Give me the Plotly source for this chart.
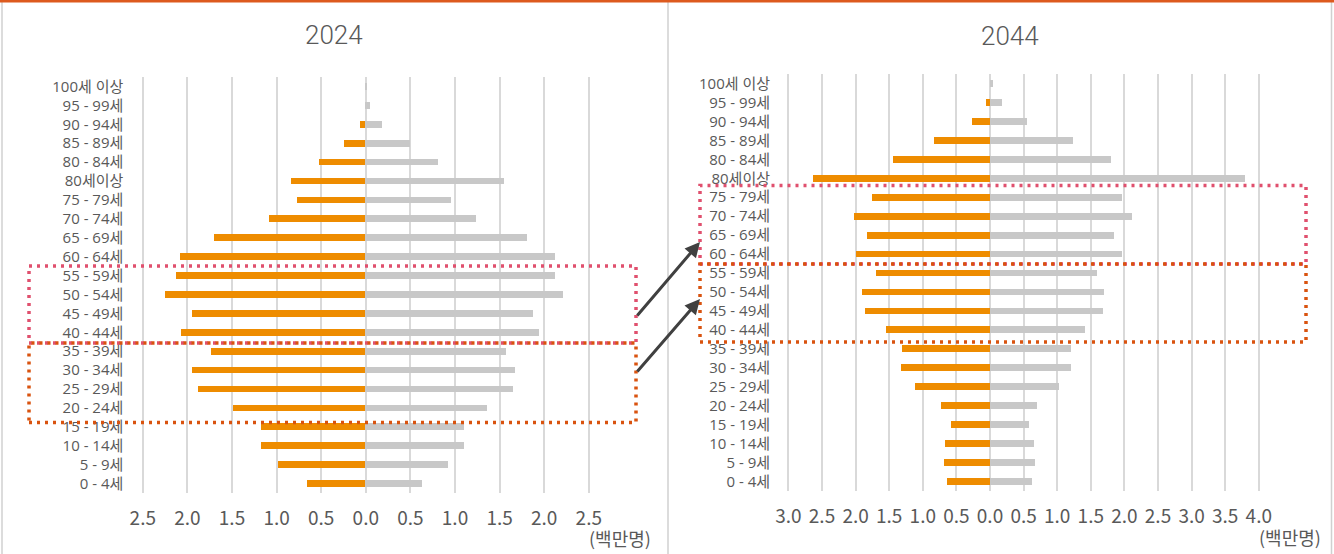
import plotly.graph_objects as go

W, H = 1334, 554

# Age groups, listed from top row to bottom row
age_groups = [
    "100세 이상", "95 - 99세", "90 - 94세", "85 - 89세", "80 - 84세", "80세이상",
    "75 - 79세", "70 - 74세", "65 - 69세", "60 - 64세", "55 - 59세", "50 - 54세",
    "45 - 49세", "40 - 44세", "35 - 39세", "30 - 34세", "25 - 29세", "20 - 24세",
    "15 - 19세", "10 - 14세", "5 - 9세", "0 - 4세",
]

# Population in millions (남 = left side, 여 = right side)
male_2024 = [0.00, 0.00, 0.06, 0.24, 0.52, 0.83, 0.77, 1.08, 1.70, 2.08, 2.12, 2.25,
             1.95, 2.07, 1.73, 1.94, 1.88, 1.49, 1.17, 1.17, 0.98, 0.66]
female_2024 = [0.01, 0.05, 0.19, 0.50, 0.81, 1.55, 0.96, 1.24, 1.81, 2.13, 2.13, 2.21,
               1.88, 1.95, 1.57, 1.68, 1.65, 1.36, 1.10, 1.11, 0.93, 0.63]
male_2044 = [0.00, 0.06, 0.27, 0.83, 1.44, 2.64, 1.75, 2.02, 1.83, 2.00, 1.69, 1.90,
             1.86, 1.55, 1.31, 1.33, 1.12, 0.73, 0.58, 0.67, 0.69, 0.64]
female_2044 = [0.04, 0.18, 0.55, 1.24, 1.80, 3.79, 1.97, 2.12, 1.85, 1.96, 1.59, 1.70,
               1.68, 1.41, 1.20, 1.21, 1.03, 0.70, 0.58, 0.65, 0.67, 0.62]

# Axis ticks (absolute values shown on both sides of zero)
ticks_2024 = [-2.5, -2.0, -1.5, -1.0, -0.5, 0.0, 0.5, 1.0, 1.5, 2.0, 2.5]
ticks_2044 = [-3.0, -2.5, -2.0, -1.5, -1.0, -0.5, 0.0, 0.5, 1.0, 1.5, 2.0, 2.5, 3.0, 3.5, 4.0]

years = ["2024", "2044"]
unit_label = "(백만명)"

ORANGE = "#EE8C00"
GRAY = "#C8C8C8"
GRID = "#D9D9D9"
TEXT = "#595959"
PINK = "#E0506E"
RUST = "#D9530F"

LABEL_FONT = "Open Sans, Noto Sans CJK KR, sans-serif"
NUM_FONT = "Noto Sans CJK KR, sans-serif"


def px_x(x):
    return x / W


def px_y(y):
    return 1 - y / H


def fmt(v):
    return f"{abs(v):.1f}"


fig = go.Figure()

panels = [
    (male_2024, female_2024, "x", "y"),
    (male_2044, female_2044, "x2", "y2"),
]
for male, female, xa, ya in panels:
    fig.add_trace(go.Bar(
        y=age_groups, x=[-v for v in male], orientation="h", xaxis=xa, yaxis=ya,
        marker=dict(color=ORANGE, line=dict(width=0)), width=0.36, name="남",
        showlegend=False,
    ))
    fig.add_trace(go.Bar(
        y=age_groups, x=female, orientation="h", xaxis=xa, yaxis=ya,
        marker=dict(color=GRAY, line=dict(width=0)), width=0.36, name="여",
        showlegend=False,
    ))

n = len(age_groups)


def xaxis_cfg(ticks, scale, zero_px, lo, hi):
    return dict(
        domain=[px_x(zero_px + lo * scale), px_x(zero_px + hi * scale)],
        range=[lo, hi],
        tickvals=ticks,
        ticktext=[fmt(t) for t in ticks],
        showgrid=True, gridcolor=GRID, gridwidth=1.5,
        zeroline=False, showline=False, ticks="",
        tickfont=dict(family=NUM_FONT, size=19, color=TEXT),
        ticklabelstandoff=12,
        automargin=False,
        fixedrange=True,
    )


def yaxis_cfg(top_px, bottom_px, anchor):
    return dict(
        domain=[px_y(bottom_px), px_y(top_px)],
        type="category",
        categoryorder="array", categoryarray=age_groups,
        range=[n - 0.5, -0.5],
        showgrid=False, zeroline=False, showline=False, ticks="",
        tickfont=dict(family=LABEL_FONT, size=15, color=TEXT),
        ticklabelstandoff=14,
        automargin=False,
        anchor=anchor,
        fixedrange=True,
    )


fig.update_layout(
    template="none",
    width=W, height=H,
    margin=dict(l=0, r=0, t=0, b=0, pad=0),
    paper_bgcolor="white", plot_bgcolor="white",
    barmode="overlay",
    bargap=0,
    xaxis=dict(**xaxis_cfg(ticks_2024, 89.2, 365.8, -2.55, 2.55), anchor="y"),
    yaxis=yaxis_cfg(77, 493, "x"),
    xaxis2=dict(**xaxis_cfg(ticks_2044, 67.2, 990.0, -3.05, 4.05), anchor="y2"),
    yaxis2=yaxis_cfg(74, 491, "x2"),
)

shapes = []
# panel frames
shapes.append(dict(type="line", xref="paper", yref="paper",
                   x0=px_x(2), x1=px_x(2), y0=0, y1=1,
                   line=dict(color="#D0D0D0", width=1.5)))
shapes.append(dict(type="line", xref="paper", yref="paper",
                   x0=px_x(668), x1=px_x(668), y0=0, y1=1,
                   line=dict(color="#D0D0D0", width=1.5)))
shapes.append(dict(type="line", xref="paper", yref="paper",
                   x0=px_x(1331.5), x1=px_x(1331.5), y0=0, y1=1,
                   line=dict(color="#D0D0D0", width=1.5)))
shapes.append(dict(type="line", xref="paper", yref="paper",
                   x0=0, x1=1, y0=px_y(1.2), y1=px_y(1.2),
                   line=dict(color="#DD5A1E", width=2.5)))

# dotted highlight boxes
DOT = "3px,5px"


def box(x0, y0, x1, y1, color):
    return dict(type="rect", xref="paper", yref="paper",
                x0=px_x(x0), x1=px_x(x1), y0=px_y(y1), y1=px_y(y0),
                line=dict(color=color, width=3.5, dash=DOT))


shapes.append(box(29, 266, 636, 343, PINK))
shapes.append(box(29, 343, 636, 422.5, RUST))
shapes.append(box(700, 185.5, 1306, 264, PINK))
shapes.append(box(700, 264, 1306, 342, RUST))
fig.update_layout(shapes=shapes)


def label(text, x, y, size, family, weight=400):
    return dict(text=text, x=px_x(x), y=px_y(y), xref="paper", yref="paper",
                xanchor="center", yanchor="middle", showarrow=False,
                font=dict(family=family, size=size, color=TEXT, weight=weight))


annotations = [
    label(years[0], 334, 35, 26, "Roboto, sans-serif", 300),
    label(years[1], 1010, 36, 26, "Roboto, sans-serif", 300),
    label(unit_label, 620, 538, 18, NUM_FONT),
    label(unit_label, 1290, 537, 18, NUM_FONT),
]
# arrows linking the age cohorts between the two years
for (sx, sy), (ex, ey) in [((636, 317), (700, 242)), ((636, 373), (700, 299))]:
    annotations.append(dict(
        x=px_x(ex), y=px_y(ey), xref="paper", yref="paper",
        ax=sx - ex, ay=sy - ey, axref="pixel", ayref="pixel",
        text="", showarrow=True, arrowhead=2, arrowsize=1,
        arrowwidth=3, arrowcolor="#404040",
    ))
fig.update_layout(annotations=annotations)

fig.write_html("out.html")
